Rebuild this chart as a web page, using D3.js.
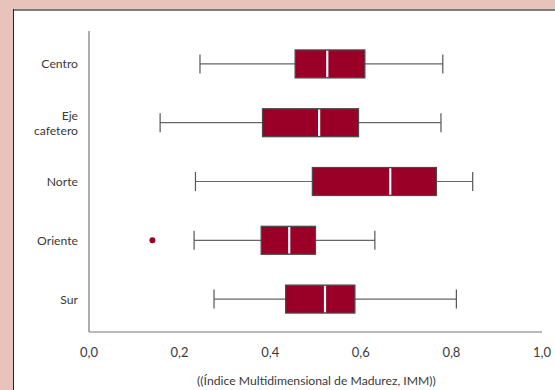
<!DOCTYPE html>
<html>
<head>
<meta charset="utf-8">
<script src="https://cdn.jsdelivr.net/npm/d3@7"></script>
<style>
  html, body { margin: 0; padding: 0; background: #e8c3bb; }
  svg { display: block; }
  text { font-family: Lato, "Open Sans", sans-serif; fill: #3a3a3a; font-weight: 400; }
</style>
</head>
<body>
<script>
// Regional distribution of the IMM index (box-and-whisker summary)
const regions   = ["Centro", "Eje cafetero", "Norte", "Oriente", "Sur"];
const whiskerLo = [0.245, 0.157, 0.235, 0.232, 0.276];
const q1        = [0.455, 0.383, 0.493, 0.380, 0.434];
const medians   = [0.526, 0.508, 0.665, 0.442, 0.521];
const q3        = [0.609, 0.595, 0.767, 0.500, 0.587];
const whiskerHi = [0.781, 0.777, 0.847, 0.631, 0.811];
const outliers  = [{ region: "Oriente", value: 0.140 }];
const xTicks    = [0, 0.2, 0.4, 0.6, 0.8, 1.0];
const xTitle    = "((Índice Multidimensional de Madurez, IMM))";

const W = 555, H = 390;
const svg = d3.select("body").append("svg").attr("width", W).attr("height", H);

// white panel with its frame
svg.append("rect").attr("x", 13).attr("y", 10).attr("width", W - 13).attr("height", H - 10).attr("fill", "#fff");
svg.append("line").attr("x1", 13).attr("x2", W).attr("y1", 10).attr("y2", 10)
  .attr("stroke", "#7d7d7d").attr("stroke-width", 2);
svg.append("line").attr("x1", 13.5).attr("x2", 13.5).attr("y1", 9).attr("y2", H)
  .attr("stroke", "#3a1c1c").attr("stroke-width", 1);

const x0 = 89, x1 = 542, yTop = 31, yBot = 332;
const x = d3.scaleLinear().domain([0, 1]).range([x0, x1]);
const y = d3.scalePoint().domain(regions).range([yTop, yBot]).padding(0.56);

// axes
svg.append("line").attr("x1", x0).attr("x2", x0).attr("y1", yTop).attr("y2", yBot)
  .attr("stroke", "#777").attr("stroke-width", 1.2);
svg.append("line").attr("x1", x0).attr("x2", x1).attr("y1", yBot).attr("y2", yBot)
  .attr("stroke", "#777").attr("stroke-width", 1.2);

const fmt = v => d3.format(".1f")(v).replace(".", ",");
svg.append("g").selectAll("text").data(xTicks).join("text")
  .attr("x", d => x(d)).attr("y", 357)
  .attr("text-anchor", "middle").attr("font-size", 13).text(fmt);

svg.append("text").attr("x", (x0 + x1) / 2 + 1).attr("y", 385)
  .attr("text-anchor", "middle").attr("font-size", 12.2).text(xTitle);

// category labels
const lab = svg.append("g");
regions.forEach(r => {
  const words = r === "Eje cafetero" ? ["Eje", "cafetero"] : [r];
  const t = lab.append("text").attr("text-anchor", "end").attr("font-size", 12.2);
  words.forEach((w, i) => {
    t.append("tspan").attr("x", 78)
      .attr("y", y(r) + 4.5 + (i - (words.length - 1) / 2) * 15).text(w);
  });
});

// boxes
const data = regions.map((r, i) => ({
  r, lo: whiskerLo[i], q1: q1[i], med: medians[i], q3: q3[i], hi: whiskerHi[i]
}));
const boxH = 28, capH = 19;
const g = svg.append("g").selectAll("g").data(data).join("g");

g.append("line").attr("x1", d => x(d.lo)).attr("x2", d => x(d.hi))
  .attr("y1", d => y(d.r)).attr("y2", d => y(d.r))
  .attr("stroke", "#666").attr("stroke-width", 1.2);
g.append("line").attr("x1", d => x(d.lo)).attr("x2", d => x(d.lo))
  .attr("y1", d => y(d.r) - capH / 2).attr("y2", d => y(d.r) + capH / 2)
  .attr("stroke", "#555").attr("stroke-width", 1.2);
g.append("line").attr("x1", d => x(d.hi)).attr("x2", d => x(d.hi))
  .attr("y1", d => y(d.r) - capH / 2).attr("y2", d => y(d.r) + capH / 2)
  .attr("stroke", "#555").attr("stroke-width", 1.2);
g.append("rect").attr("x", d => x(d.q1)).attr("width", d => x(d.q3) - x(d.q1))
  .attr("y", d => y(d.r) - boxH / 2).attr("height", boxH)
  .attr("fill", "#9a0027").attr("stroke", "#4a4a4a").attr("stroke-width", 1.2);
g.append("line").attr("x1", d => x(d.med)).attr("x2", d => x(d.med))
  .attr("y1", d => y(d.r) - boxH / 2 + 0.8).attr("y2", d => y(d.r) + boxH / 2 - 0.8)
  .attr("stroke", "#fff").attr("stroke-width", 2.2);

// outliers
svg.append("g").selectAll("circle").data(outliers).join("circle")
  .attr("cx", d => x(d.value)).attr("cy", d => y(d.region)).attr("r", 3)
  .attr("fill", "#9a0027");
</script>
</body>
</html>
